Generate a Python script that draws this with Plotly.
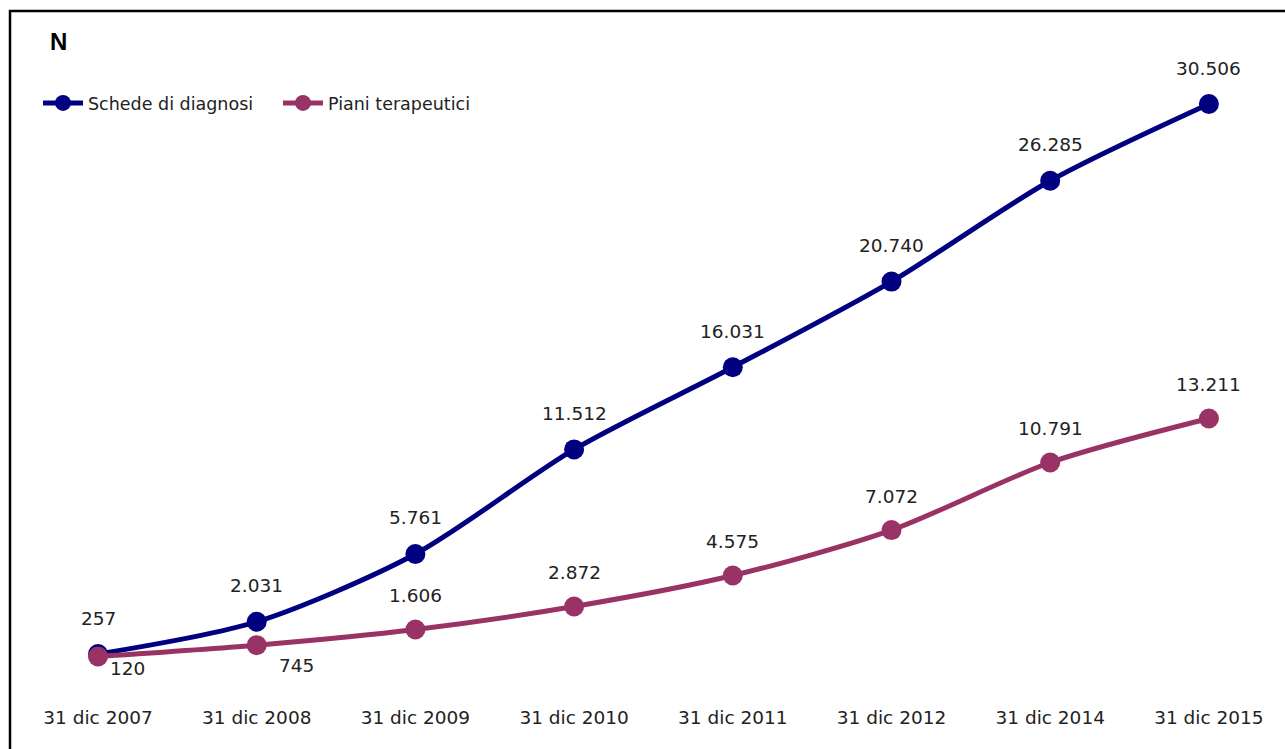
import plotly.graph_objects as go

# Dates of each survey and counts for both series
categories = ["31 dic 2007", "31 dic 2008", "31 dic 2009", "31 dic 2010",
              "31 dic 2011", "31 dic 2012", "31 dic 2014", "31 dic 2015"]
schede = [257, 2031, 5761, 11512, 16031, 20740, 26285, 30506]
piani = [120, 745, 1606, 2872, 4575, 7072, 10791, 13211]

NAVY = "#000080"
PLUM = "#993366"
FONT = "Century Gothic, DejaVu Sans, sans-serif"


def fmt(v):
    return f"{v:,}".replace(",", ".")


fig = go.Figure()
fig.add_trace(go.Scatter(
    x=categories, y=schede, name="Schede di diagnosi",
    mode="lines+markers", line=dict(color=NAVY, width=5, shape="spline", smoothing=0.8),
    marker=dict(color=NAVY, size=20),
))
fig.add_trace(go.Scatter(
    x=categories, y=piani, name="Piani terapeutici",
    mode="lines+markers", line=dict(color=PLUM, width=5, shape="spline", smoothing=0.8),
    marker=dict(color=PLUM, size=20),
))

annotations = []
for c, v in zip(categories, schede):
    annotations.append(dict(x=c, y=v, text=fmt(v), showarrow=False, yshift=36,
                            font=dict(size=18.5, color="#222222", family=FONT)))
for i, (c, v) in enumerate(zip(categories, piani)):
    if i < 2:
        xs, ys = (29, -12) if i == 0 else (40, -20)
    else:
        xs, ys = 0, 34
    annotations.append(dict(x=c, y=v, text=fmt(v), showarrow=False, xshift=xs, yshift=ys,
                            font=dict(size=18.5, color="#222222", family=FONT)))

annotations.append(dict(xref="paper", yref="paper", x=48 / 1285, y=(699 - 42) / 699,
                        xanchor="left", yanchor="middle", text="<b>N</b>", showarrow=False,
                        font=dict(size=24, color="black", family="Arial")))

fig.update_layout(
    width=1285, height=749,
    margin=dict(l=0, r=0, t=0, b=50),
    paper_bgcolor="white", plot_bgcolor="white",
    separators=",.",
    showlegend=True,
    legend=dict(orientation="h", x=38 / 1285, y=(699 - 103) / 699, yanchor="middle",
                xanchor="left", font=dict(size=17.5, color="#222222", family=FONT),
                itemwidth=40, entrywidth=185, bgcolor="rgba(0,0,0,0)"),
    annotations=annotations,
    xaxis=dict(type="category", range=[-98 / 158.7, (1285 - 98) / 158.7],
               showgrid=False, showline=False, zeroline=False, ticks="",
               ticklabelstandoff=5,
               tickfont=dict(size=18.5, color="#222222", family=FONT)),
    yaxis=dict(range=[-2216, 36226], visible=False, showgrid=False, zeroline=False),
    shapes=[dict(type="rect", xref="paper", yref="paper",
                 x0=10 / 1285, x1=1.02, y0=-0.2, y1=(699 - 11) / 699,
                 line=dict(color="black", width=2.5), fillcolor="rgba(0,0,0,0)", layer="above")],
)

fig.write_html("out.html")
